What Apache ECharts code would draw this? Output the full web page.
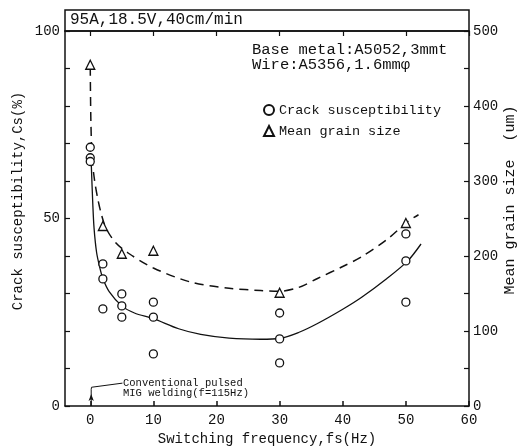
<!DOCTYPE html>
<html>
<head>
<meta charset="utf-8">
<script src="https://cdn.jsdelivr.net/npm/echarts@6/dist/echarts.min.js"></script>
<style>html,body{margin:0;padding:0;background:#fff}#main{width:523px;height:447px}</style>
</head>
<body>
<div id="main"></div>
<script>
// measured crack susceptibility, Cs (%)
var crackX = [0, 0, 0, 2, 2, 2, 5, 5, 5, 10, 10, 10, 30, 30, 30, 50, 50, 50];
var crackY = [69, 66.2, 65.2, 37.9, 33.9, 25.9, 29.9, 26.7, 23.7, 27.7, 23.7, 13.9, 24.8, 17.9, 11.5, 45.9, 38.7, 27.7];
// measured mean grain size (um)
var grainX = [0, 2, 5, 10, 30, 50];
var grainY = [455, 240, 203, 207, 151, 244];
// fitted curves as drawn in the figure
var crackFitX = [0.15, 0.4, 0.6, 1, 1.5, 2, 3, 5, 7, 10, 14, 17.5, 22, 27, 30, 33, 36, 40, 43, 47, 50.3, 52.4];
var crackFitY = [65, 54, 47.5, 41, 37, 34, 30.5, 26.7, 24.8, 23.3, 20.6, 19.1, 18.1, 17.8, 18, 19.6, 22, 25.8, 29, 34, 38.7, 43.2];
var grainFitX = [0, 0.1, 0.3, 0.7, 1.2, 1.75, 2.5, 4, 6, 10, 16, 22, 27, 30, 33, 36, 40, 43, 47, 50.3, 52];
var grainFitY = [452, 380, 330, 300, 276, 256, 237, 218, 204, 184, 165, 157, 154, 153, 158, 170, 186, 199, 222, 246, 255];
// leader line of the "conventional pulsed MIG" note
var leaderX = [5.1, 0.2, 0.15, 0.15];
var leaderY = [6.1, 5.0, 4.4, 0];
var xTicks = [0, 10, 20, 30, 40, 50, 60];

function zip(a, b) { return a.map(function (v, i) { return [v, b[i]]; }); }

var FONT = 'Liberation Mono';
var chart = echarts.init(document.getElementById('main'));
chart.setOption({
    backgroundColor: '#fff',
    animation: false,
    textStyle: { fontFamily: FONT, color: '#111' },
    grid: { left: 65, right: 54, top: 31, bottom: 41, outerBoundsMode: 'none' },
    legend: {
        orient: 'vertical', left: 258, top: 98, itemGap: 7,
        itemWidth: 10, itemHeight: 10,
        textStyle: { fontFamily: FONT, fontSize: 13.5, color: '#111' },
        data: ['Crack susceptibility', 'Mean grain size']
    },
    xAxis: [{
        type: 'value', min: -4, max: 60,
        name: 'Switching frequency,fs(Hz)', nameLocation: 'middle', nameGap: 24,
        nameTextStyle: { fontFamily: FONT, fontSize: 14, color: '#111' },
        axisLine: { onZero: false, lineStyle: { color: '#111', width: 1.5 } },
        axisTick: { inside: true, length: 5, customValues: xTicks, lineStyle: { color: '#111', width: 1.5 } },
        axisLabel: { customValues: xTicks, margin: 7, fontFamily: FONT, fontSize: 14, color: '#111' },
        splitLine: { show: false }
    }, {
        type: 'value', min: -4, max: 60, position: 'top',
        axisLine: { onZero: false, lineStyle: { color: '#111', width: 1.5 } },
        axisTick: { inside: true, length: 5, customValues: xTicks, lineStyle: { color: '#111', width: 1.2 } },
        axisLabel: { show: false },
        splitLine: { show: false }
    }],
    yAxis: [{
        type: 'value', min: 0, max: 100, interval: 10, position: 'left',
        axisLine: { show: true, onZero: false, lineStyle: { color: '#111', width: 1.5 } },
        axisTick: { inside: true, length: 5, lineStyle: { color: '#111', width: 1.2 } },
        axisLabel: {
            margin: 5, fontFamily: FONT, fontSize: 14, color: '#111',
            formatter: function (v) { return v % 50 === 0 ? String(v) : ''; }
        },
        splitLine: { show: false }
    }, {
        type: 'value', min: 0, max: 500, interval: 50, position: 'right',
        axisLine: { show: true, onZero: false, lineStyle: { color: '#111', width: 1.5 } },
        axisTick: { inside: true, length: 5, lineStyle: { color: '#111', width: 1.2 } },
        axisLabel: {
            margin: 4, fontFamily: FONT, fontSize: 14, color: '#111',
            formatter: function (v) { return v % 100 === 0 ? String(v) : ''; }
        },
        splitLine: { show: false }
    }],
    graphic: [
        { type: 'rect', shape: { x: 65, y: 10, width: 404, height: 21 },
          style: { fill: 'none', stroke: '#111', lineWidth: 1.5 } },
        { type: 'text', left: 70, top: 12,
          style: { text: '95A,18.5V,40cm/min', font: '16px "Liberation Mono"', fill: '#111' } },
        { type: 'text', left: 252, top: 42,
          style: { text: 'Base metal:A5052,3mmt\nWire:A5356,1.6mm\u03c6', font: '15.5px "Liberation Mono"', lineHeight: 15, fill: '#111' } },
        { type: 'text', left: 123, top: 378,
          style: { text: 'Conventional pulsed\nMIG welding(f=115Hz)', font: '10.5px "Liberation Mono"', lineHeight: 10, fill: '#111' } },
        { type: 'text', x: 18, y: 201, rotation: Math.PI / 2,
          style: { text: 'Crack susceptibility,Cs(%)', font: '14px "Liberation Mono"', fill: '#111', align: 'center', verticalAlign: 'middle' } },
        { type: 'text', x: 510, y: 200, rotation: Math.PI / 2,
          style: { text: 'Mean grain size  (um)', font: '15px "Liberation Mono"', fill: '#111', align: 'center', verticalAlign: 'middle' } }
    ],
    series: [
        {
            name: 'crack fit', type: 'line', smooth: 0.3, showSymbol: false, silent: true,
            data: zip(crackFitX, crackFitY),
            lineStyle: { color: '#111', width: 1.3 }
        },
        {
            name: 'grain fit', type: 'line', yAxisIndex: 1, smooth: 0.3, showSymbol: false, silent: true,
            data: zip(grainFitX, grainFitY),
            lineStyle: { color: '#111', width: 1.5, type: [9, 6] }
        },
        {
            name: 'leader', type: 'line', showSymbol: false, silent: true,
            data: zip(leaderX, leaderY),
            lineStyle: { color: '#111', width: 1 },
            markPoint: {
                silent: true, symbol: 'arrow', symbolSize: [4, 7],
                itemStyle: { color: '#111' }, label: { show: false },
                data: [{ coord: [leaderX[3], 3.2] }]
            }
        },
        {
            name: 'Crack susceptibility', type: 'scatter', symbol: 'circle', symbolSize: 8, z: 5,
            data: zip(crackX, crackY),
            itemStyle: { color: '#fff', borderColor: '#111', borderWidth: 1.3, opacity: 1 }
        },
        {
            name: 'Mean grain size', type: 'scatter', yAxisIndex: 1, symbol: 'triangle', symbolSize: 9, z: 5,
            data: zip(grainX, grainY),
            itemStyle: { color: '#fff', borderColor: '#111', borderWidth: 1.3, opacity: 1 }
        }
    ]
});
</script>
</body>
</html>
